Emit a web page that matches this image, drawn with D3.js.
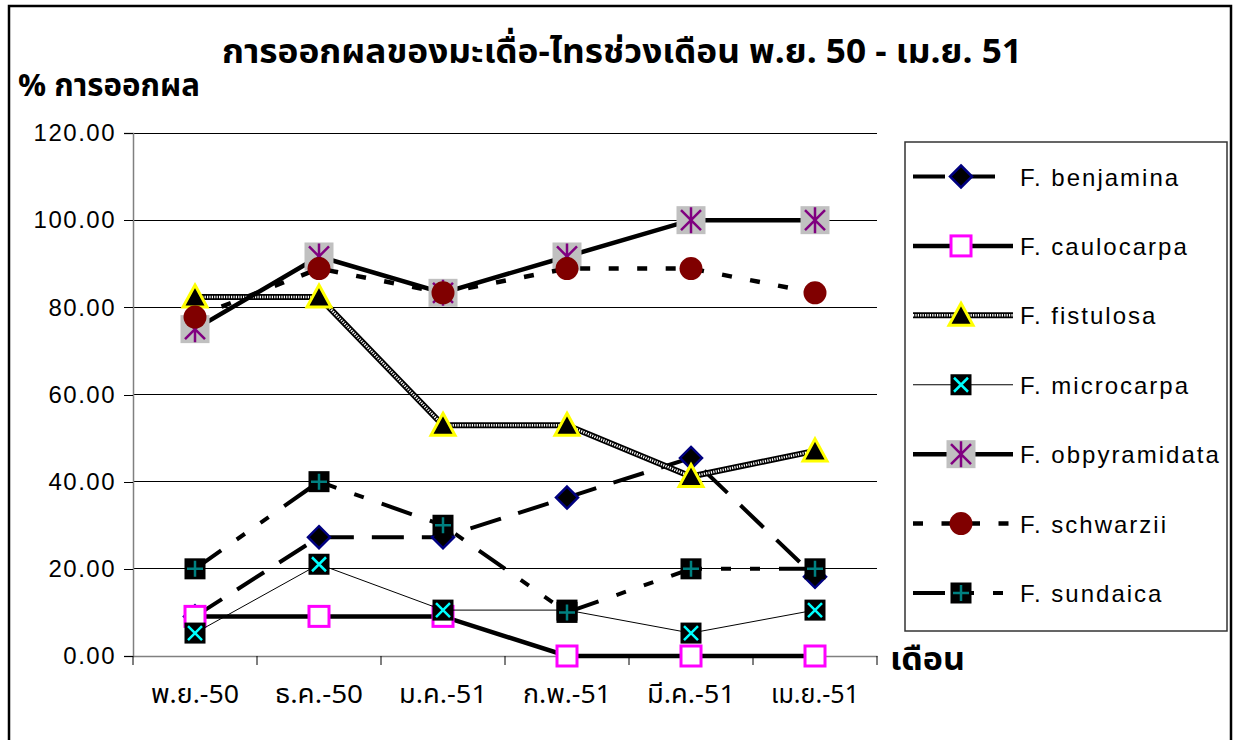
<!DOCTYPE html>
<html><head><meta charset="utf-8">
<script src="https://cdn.jsdelivr.net/npm/d3@7"></script>
<style>
html,body{margin:0;padding:0;background:#fff;}
svg{display:block;}
</style></head>
<body>
<svg id="chart" width="1234" height="740"></svg>
<script>
const categories = ["พ.ย.-50","ธ.ค.-50","ม.ค.-51","ก.พ.-51","มี.ค.-51","เม.ย.-51"];
const benjamina    = [9.09, 27.27, 27.27, 36.36, 45.45, 18.18];
const caulocarpa   = [9.09, 9.09, 9.09, 0, 0, 0];
const fistulosa    = [82.35, 82.35, 52.94, 52.94, 41.18, 47.06];
const microcarpa   = [5.26, 21.05, 10.53, 10.53, 5.26, 10.53];
const obpyramidata = [75.00, 91.67, 83.33, 91.67, 100, 100];
const schwarzii    = [77.78, 88.89, 83.33, 88.89, 88.89, 83.33];
const sundaica     = [20, 40, 30, 10, 20, 20];
const seriesNames  = ["F. benjamina","F. caulocarpa","F. fistulosa","F. microcarpa","F. obpyramidata","F. schwarzii","F. sundaica"];
const yTicks = [0,20,40,60,80,100,120];
const titleText = "การออกผลของมะเดื่อ-ไทรช่วงเดือน พ.ย. 50 - เม.ย. 51";
const yTitle = "% การออกผล";
const xTitle = "เดือน";

const seriesData = [benjamina, caulocarpa, fistulosa, microcarpa, obpyramidata, schwarzii, sundaica];
const styles = [
  {dash:"32,18", width:4, marker:"diamond"},
  {dash:null, width:4.5, marker:"square"},
  {dash:null, width:6, marker:"triangle", hatch:true},
  {dash:null, width:1, marker:"xbox"},
  {dash:null, width:4.5, marker:"star"},
  {dash:"10,18.5", width:4.5, marker:"circle"},
  {dash:"32,19,10,19,10,19", width:4, marker:"plusbox"}
];

const svg = d3.select("#chart");
const thaiFont = "'Noto Sans Thai','Noto Sans Thai UI','Loma','Garuda','Tlwg Typo','Norasi','Kinnari','Waree','DejaVu Sans','Noto Sans',sans-serif";
const latinFont = "'Liberation Sans', Arial, sans-serif";

// outer border
svg.append("rect").attr("x",9).attr("y",6).attr("width",1222).attr("height",760)
  .attr("fill","none").attr("stroke","#000").attr("stroke-width",2.5);

const L=133, R=877, T=133, B=656;
const x = d3.scaleBand().domain(categories).range([L,R]);
const y = d3.scaleLinear().domain([0,120]).range([B,T]);

// gridlines
svg.append("g").selectAll("line").data(yTicks.filter(d=>d>0)).join("line")
  .attr("x1",L).attr("x2",R).attr("y1",d=>y(d)).attr("y2",d=>y(d))
  .attr("stroke","#000").attr("stroke-width",1).attr("shape-rendering","crispEdges");

// y axis
const yAxis = svg.append("g").attr("transform",`translate(${L},0)`)
  .call(d3.axisLeft(y).tickValues(yTicks).tickSize(9).tickPadding(8).tickFormat(d3.format(".2f")));
yAxis.select(".domain").attr("stroke","#808080").attr("stroke-width",1.5);
yAxis.selectAll(".tick line").attr("stroke","#000").attr("shape-rendering","crispEdges");
yAxis.selectAll("text").attr("font-family",latinFont).attr("font-size",24)
  .attr("letter-spacing","1.5px").attr("fill","#000").attr("dx","0");

// x axis
const xAxis = svg.append("g").attr("transform",`translate(0,${B})`)
  .call(d3.axisBottom(x).tickSize(0).tickPadding(0));
xAxis.select(".domain").attr("stroke","#808080").attr("stroke-width",1.5);
xAxis.selectAll(".tick text").remove();
// x boundary ticks
const bounds = categories.map(c=>x(c)).concat([R]);
svg.append("g").selectAll("line").data(bounds).join("line")
  .attr("x1",d=>d).attr("x2",d=>d).attr("y1",B).attr("y2",B+9)
  .attr("stroke","#000").attr("stroke-width",1);
// x labels
svg.append("g").selectAll("text").data(categories).join("text")
  .attr("x",d=>x(d)+x.bandwidth()/2).attr("y",703)
  .attr("text-anchor","middle").attr("font-family",thaiFont).attr("font-size",26)
  .attr("textLength",88).attr("lengthAdjust","spacingAndGlyphs")
  .text(d=>d);

// titles
svg.append("text").attr("x",622).attr("y",63).attr("text-anchor","middle")
  .attr("font-family",thaiFont).attr("font-size",34).attr("font-weight","bold")
  .attr("textLength",800).attr("lengthAdjust","spacingAndGlyphs").text(titleText);
svg.append("text").attr("x",18).attr("y",96)
  .attr("font-family",thaiFont).attr("font-size",31).attr("font-weight","bold")
  .attr("textLength",182).attr("lengthAdjust","spacingAndGlyphs").text(yTitle);
svg.append("text").attr("x",890).attr("y",670)
  .attr("font-family",thaiFont).attr("font-size",31).attr("font-weight","bold")
  .attr("textLength",75).attr("lengthAdjust","spacingAndGlyphs").text(xTitle);

function drawMarker(g, type){
  if(type==="diamond"){
    g.append("path").attr("d","M0,-11L11,0L0,11L-11,0Z").attr("fill","#000").attr("stroke","#000080").attr("stroke-width",2.5);
  } else if(type==="square"){
    g.append("rect").attr("x",-10).attr("y",-10).attr("width",20).attr("height",20)
      .attr("fill","#fff").attr("stroke","#ff00ff").attr("stroke-width",3);
  } else if(type==="triangle"){
    g.append("path").attr("d","M0,-12L12,10L-12,10Z").attr("fill","#000").attr("stroke","#ffff00").attr("stroke-width",3).attr("stroke-linejoin","miter");
  } else if(type==="xbox"){
    g.append("rect").attr("x",-10.5).attr("y",-10.5).attr("width",21).attr("height",21).attr("fill","#000");
    g.append("path").attr("d","M-7,-7L7,7M7,-7L-7,7").attr("stroke","#00ffff").attr("stroke-width",2.5);
  } else if(type==="star"){
    g.append("rect").attr("x",-14.5).attr("y",-14).attr("width",29).attr("height",28).attr("fill","#c0c0c0");
    g.append("path").attr("d","M0,-13L0,13M-10,-10L10,10M10,-10L-10,10").attr("stroke","#800080").attr("stroke-width",2.5);
  } else if(type==="circle"){
    g.append("circle").attr("r",11.5).attr("fill","#800000");
  } else if(type==="plusbox"){
    g.append("rect").attr("x",-10.5).attr("y",-10.5).attr("width",21).attr("height",21).attr("fill","#000");
    g.append("path").attr("d","M-8,0L8,0M0,-8L0,8").attr("stroke","#008080").attr("stroke-width",2.5);
  }
}

function strokeLine(g, pathD, st){
  if(st.hatch){
    g.append("path").attr("d",pathD).attr("fill","none").attr("stroke","#000").attr("stroke-width",st.width);
    g.append("path").attr("d",pathD).attr("fill","none").attr("stroke","#fff").attr("stroke-width",2.5).attr("stroke-dasharray","1.2,1.2");
  } else {
    g.append("path").attr("d",pathD).attr("fill","none").attr("stroke","#000")
      .attr("stroke-width",st.width).attr("stroke-dasharray",st.dash);
  }
}

const line = d3.line().x((d,i)=>x(categories[i])+x.bandwidth()/2).y(d=>y(d));
const plot = svg.append("g");
seriesData.forEach((vals,si)=>{
  const st = styles[si];
  const g = plot.append("g");
  strokeLine(g, line(vals), st);
  vals.forEach((v,i)=>{
    const mg = g.append("g").attr("transform",`translate(${x(categories[i])+x.bandwidth()/2},${y(v)})`);
    drawMarker(mg, st.marker);
  });
});

// legend
svg.append("rect").attr("x",905).attr("y",142).attr("width",322).attr("height",489)
  .attr("fill","#fff").attr("stroke","#333").attr("stroke-width",1.5);
const legendY = d3.scaleLinear().domain([0,6]).range([176.5,593]);
seriesNames.forEach((name,si)=>{
  const st = styles[si];
  const g = svg.append("g").attr("transform",`translate(0,${legendY(si)})`);
  strokeLine(g, "M913,0L1013,0", st);
  const mg = g.append("g").attr("transform","translate(961,0)");
  drawMarker(mg, st.marker);
  g.append("text").attr("x",1020).attr("y",9).attr("font-family",latinFont).attr("font-size",24)
    .attr("letter-spacing","2px").text(name);
});
</script>
</body></html>
